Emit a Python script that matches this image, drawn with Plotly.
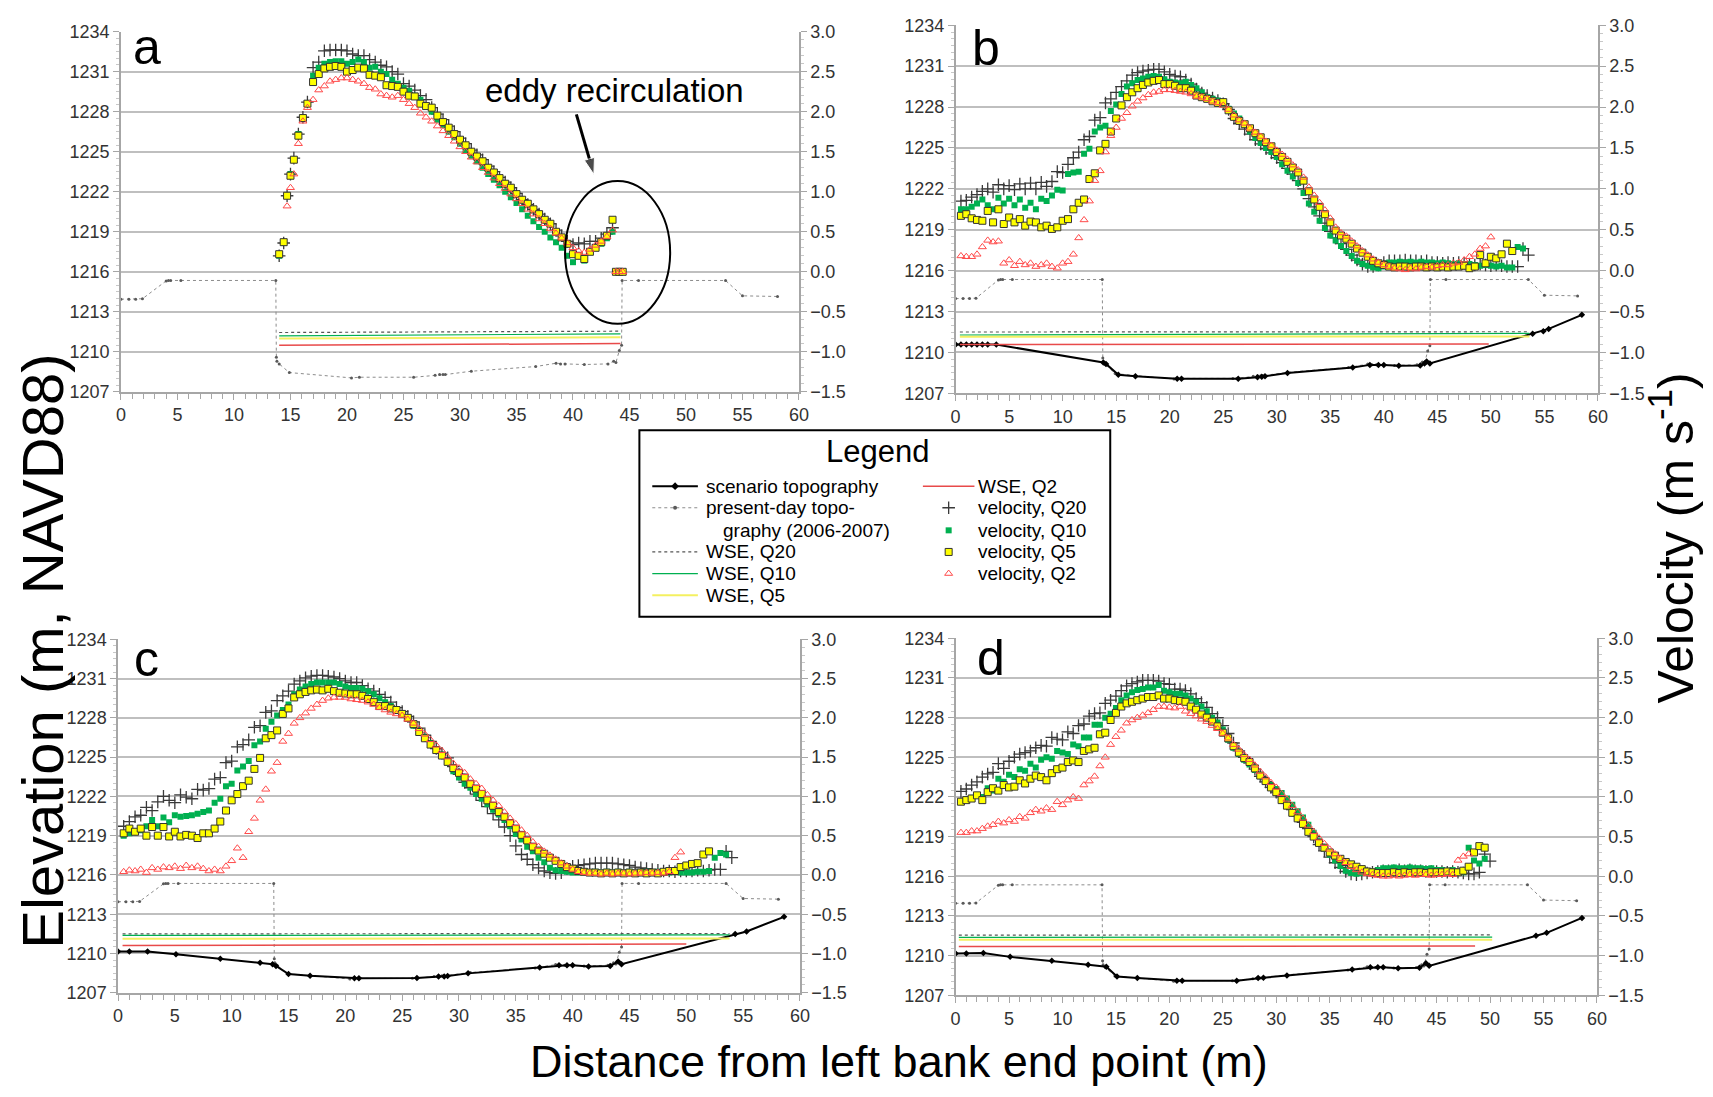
import plotly.graph_objects as go

FONT = "Liberation Sans, Arial, sans-serif"
W, H = 1713, 1097

# ---------------- stations (distance from left bank end point, m) ----------------
STATIONS = [0.5, 1.0, 1.5, 2.0, 2.5, 3.0, 3.5, 4.0, 4.5, 5.0,
            5.5, 6.0, 6.5, 7.0, 7.5, 8.0, 8.5, 9.0, 9.5, 10.0,
            10.5, 11.0, 11.5, 12.0, 12.5, 13.0, 13.5, 14.0, 14.5, 15.0,
            15.5, 16.0, 16.5, 17.0, 17.5, 18.0, 18.5, 19.0, 19.5, 20.0,
            20.5, 21.0, 21.5, 22.0, 22.5, 23.0, 23.5, 24.0, 24.5, 25.0,
            25.5, 26.0, 26.5, 27.0, 27.5, 28.0, 28.5, 29.0, 29.5, 30.0,
            30.5, 31.0, 31.5, 32.0, 32.5, 33.0, 33.5, 34.0, 34.5, 35.0,
            35.5, 36.0, 36.5, 37.0, 37.5, 38.0, 38.5, 39.0, 39.5, 40.0,
            40.5, 41.0, 41.5, 42.0, 42.5, 43.0, 43.5, 44.0, 44.5, 45.0,
            45.5, 46.0, 46.5, 47.0, 47.5, 48.0, 48.5, 49.0, 49.5, 50.0,
            50.5, 51.0, 51.5, 52.0, 52.5, 53.0, 53.5, 54.0]

STATIONS_A = [14.0, 14.4, 14.7, 15.0, 15.3, 15.7, 16.1, 16.5,
              17.0, 17.5, 18.0, 18.5, 19.0, 19.5, 20.0, 20.5, 21.0, 21.5,
              22.0, 22.5, 23.0, 23.5, 24.0, 24.5, 25.0, 25.5, 26.0, 26.5,
              27.0, 27.5, 28.0, 28.5, 29.0, 29.5, 30.0, 30.5, 31.0, 31.5,
              32.0, 32.5, 33.0, 33.5, 34.0, 34.5, 35.0, 35.5, 36.0, 36.5,
              37.0, 37.5, 38.0, 38.5, 39.0, 39.5, 40.0, 40.5, 41.0, 41.5,
              42.0, 42.5, 43.0, 43.5, 43.8, 44.1, 44.4]

# ---------------- velocity (m/s), panel a ----------------
VQ20_A = [0.20, 0.36, 0.95, 1.22, 1.42, 1.72, 1.93, 2.12,
          2.55, 2.62, 2.76, 2.77, 2.77, 2.77, 2.76, 2.72, 2.70, 2.70,
          2.65, 2.62, 2.58, 2.56, 2.50, 2.47, 2.35, 2.32, 2.27, 2.20,
          2.15, 2.05, 1.97, 1.90, 1.82, 1.75, 1.67, 1.60, 1.52, 1.46,
          1.40, 1.32, 1.25, 1.18, 1.12, 1.05, 0.98, 0.90, 0.84, 0.78,
          0.72, 0.66, 0.60, 0.52, 0.45, 0.38, 0.34, 0.36, 0.35, 0.38,
          0.38, 0.42, 0.47, 0.55, None, None, None]
VQ10_A = [0.20, 0.36, 0.95, 1.22, 1.40, 1.72, 1.93, 2.10,
          2.45, 2.55, 2.60, 2.62, 2.63, 2.63, 2.60, 2.62, 2.65, 2.62,
          2.55, 2.56, 2.50, 2.47, 2.40, 2.35, 2.30, 2.26, 2.20, 2.15,
          2.07, 2.00, 1.90, 1.83, 1.75, 1.68, 1.60, 1.52, 1.45, 1.38,
          1.30, 1.22, 1.15, 1.08, 1.00, 0.93, 0.86, 0.78, 0.70, 0.63,
          0.56, 0.50, 0.43, 0.37, 0.30, 0.20, 0.12, 0.20, 0.14, 0.25,
          0.30, 0.35, 0.42, 0.50, None, None, None]
VQ5_A = [0.22, 0.37, 0.95, 1.20, 1.40, 1.70, 1.92, 2.10,
         2.37, 2.47, 2.54, 2.56, 2.57, 2.56, 2.50, 2.52, 2.55, 2.54,
         2.46, 2.45, 2.43, 2.33, 2.32, 2.31, 2.25, 2.20, 2.19, 2.10,
         2.07, 2.05, 1.95, 1.87, 1.80, 1.72, 1.65, 1.58, 1.50, 1.44,
         1.38, 1.30, 1.24, 1.17, 1.10, 1.05, 0.97, 0.90, 0.85, 0.78,
         0.72, 0.65, 0.60, 0.50, 0.43, 0.35, 0.22, 0.20, 0.16, 0.25,
         0.30, 0.37, 0.45, 0.65, 0.00, 0.00, 0.00]
VQ2_A = [None, None, 0.82, 1.05, 1.22, 1.60, 1.88, 2.05,
         2.15, 2.27, 2.32, 2.38, 2.40, 2.42, 2.42, 2.40, 2.38, 2.35,
         2.30, 2.28, 2.22, 2.20, 2.18, 2.20, 2.15, 2.10, 2.05, 1.98,
         1.93, 1.88, 1.82, 1.76, 1.70, 1.63, 1.56, 1.50, 1.43, 1.37,
         1.30, 1.24, 1.17, 1.10, 1.04, 0.97, 0.91, 0.85, 0.78, 0.72,
         0.66, 0.60, 0.54, 0.48, 0.42, 0.36, 0.30, 0.26, 0.24, 0.28,
         0.33, 0.38, 0.44, 0.52, 0.00, 0.00, 0.00]

# ---------------- velocity (m/s), panel b ----------------
VQ20_B = [0.85, 0.86, 0.90, 0.93, 0.97, 1.00, 0.96, 1.05, 1.00, 1.04,
          0.99, 1.06, 1.00, 1.07, 1.00, 1.08, 1.03, 1.09, 1.21, 1.20,
          1.30, 1.38, 1.45, 1.60, 1.64, 1.84, 1.87, 2.05, 2.10, 2.18,
          2.25, 2.32, 2.39, 2.42, 2.44, 2.45, 2.46, 2.46, 2.43, 2.40,
          2.38, 2.37, 2.33, 2.28, 2.22, 2.17, 2.14, 2.11, 2.08, 2.04,
          1.97, 1.86, 1.80, 1.73, 1.67, 1.60, 1.55, 1.49, 1.44, 1.38,
          1.32, 1.25, 1.18, 1.10, 1.00, 0.88, 0.78, 0.67, 0.58, 0.48,
          0.40, 0.33, 0.26, 0.19, 0.13, 0.08, 0.05, 0.05, 0.07, 0.10,
          0.12, 0.12, 0.12, 0.13, 0.12, 0.12, 0.11, 0.12, 0.10, 0.10,
          0.09, 0.10, 0.09, 0.10, 0.09, 0.08, 0.07, 0.08, 0.07, 0.06,
          0.07, 0.06, 0.05, 0.05, 0.05, 0.27, 0.19, None]
VQ10_B = [0.75, 0.75, 0.78, 0.82, 0.87, 0.80, 0.75, 0.89, 0.82, 0.88,
          0.80, 0.87, 0.77, 0.83, 0.75, 0.88, 0.85, 0.92, 0.99, 0.98,
          1.18, 1.20, 1.21, 1.43, 1.49, 1.70, 1.75, 1.77, 1.95, 2.03,
          2.16, 2.25, 2.29, 2.33, 2.35, 2.37, 2.38, 2.37, 2.34, 2.31,
          2.30, 2.29, 2.31, 2.27, 2.23, 2.18, 2.12, 2.10, 2.08, 2.03,
          1.98, 1.92, 1.86, 1.79, 1.70, 1.62, 1.56, 1.50, 1.45, 1.39,
          1.30, 1.22, 1.15, 1.07, 0.95, 0.82, 0.72, 0.61, 0.52, 0.43,
          0.37, 0.30, 0.24, 0.18, 0.12, 0.08, 0.06, 0.04, 0.03, 0.05,
          0.10, 0.10, 0.11, 0.10, 0.11, 0.10, 0.11, 0.10, 0.10, 0.09,
          0.10, 0.09, 0.08, 0.09, 0.08, 0.08, 0.07, 0.06, 0.07, 0.06,
          0.05, 0.06, 0.04, 0.04, 0.29, 0.27, None, None]
VQ5_B = [0.67, 0.69, 0.64, 0.62, 0.61, 0.73, 0.59, 0.75, 0.57, 0.65,
         0.59, 0.63, 0.55, 0.60, 0.59, 0.53, 0.55, 0.51, 0.53, 0.61,
         0.63, 0.75, 0.83, 0.87, 1.12, 1.19, 1.47, 1.55, 1.70, 1.86,
         2.02, 2.12, 2.18, 2.23, 2.27, 2.30, 2.32, 2.33, 2.28, 2.28,
         2.26, 2.23, 2.23, 2.20, 2.14, 2.12, 2.10, 2.07, 2.05, 2.06,
         1.96, 1.88, 1.83, 1.79, 1.74, 1.68, 1.63, 1.57, 1.52, 1.45,
         1.39, 1.33, 1.26, 1.20, 1.10, 0.97, 0.87, 0.78, 0.69, 0.59,
         0.49, 0.43, 0.39, 0.33, 0.27, 0.22, 0.17, 0.12, 0.09, 0.07,
         0.05, 0.04, 0.05, 0.05, 0.04, 0.05, 0.05, 0.04, 0.05, 0.04,
         0.05, 0.04, 0.05, 0.05, 0.06, 0.03, 0.05, 0.19, 0.09, 0.17,
         0.15, 0.20, 0.33, 0.24, None, None, None, None]
VQ2_B = [0.18, 0.17, 0.17, 0.20, 0.29, 0.37, 0.35, 0.36, 0.09, 0.13,
         0.06, 0.11, 0.07, 0.09, 0.05, 0.07, 0.09, 0.05, 0.03, 0.09,
         0.11, 0.20, 0.40, 0.62, 0.85, 1.10, 1.22, 1.45, 1.65, 1.75,
         1.86, 1.93, 2.01, 2.07, 2.11, 2.15, 2.18, 2.19, 2.21, 2.21,
         2.20, 2.19, 2.18, 2.16, 2.13, 2.12, 2.10, 2.07, 2.05, 2.02,
         1.97, 1.90, 1.84, 1.80, 1.74, 1.69, 1.64, 1.58, 1.53, 1.47,
         1.42, 1.36, 1.29, 1.23, 1.14, 1.02, 0.92, 0.83, 0.74, 0.64,
         0.53, 0.46, 0.42, 0.36, 0.30, 0.24, 0.19, 0.14, 0.10, 0.07,
         0.05, 0.03, 0.02, 0.01, 0.03, 0.02, 0.04, 0.05, 0.04, 0.06,
         0.07, 0.07, 0.09, 0.10, 0.13, 0.17, 0.20, 0.27, 0.30, 0.41,
         None, None, None, None, None, None, None, None]

# ---------------- velocity (m/s), panel c ----------------
VQ20_C = [0.62, 0.68, 0.74, 0.76, 0.86, 0.82, 0.93, 1.00, 0.95, 0.92,
          1.02, 0.99, 0.97, 1.09, 1.08, 1.10, 1.22, 1.24, 1.43, 1.45,
          1.63, 1.66, 1.72, 1.88, 1.90, 2.07, 2.09, 2.22, 2.28, 2.34,
          2.43, 2.47, 2.51, 2.53, 2.54, 2.54, 2.53, 2.52, 2.50, 2.47,
          2.45, 2.45, 2.41, 2.37, 2.34, 2.30, 2.26, 2.20, 2.13, 2.08,
          2.02, 1.95, 1.87, 1.78, 1.70, 1.61, 1.55, 1.49, 1.38, 1.28,
          1.18, 1.11, 1.03, 0.95, 0.87, 0.78, 0.70, 0.61, 0.50, 0.37,
          0.26, 0.20, 0.13, 0.09, 0.05, 0.03, 0.02, 0.03, 0.08, 0.11,
          0.12, 0.13, 0.14, 0.15, 0.15, 0.15, 0.15, 0.14, 0.13, 0.12,
          0.10, 0.09, 0.08, 0.07, 0.06, 0.05, 0.05, 0.04, 0.05, 0.05,
          0.05, 0.06, 0.05, 0.06, 0.07, 0.07, 0.30, 0.22]
VQ10_C = [0.50, 0.53, 0.55, 0.57, 0.62, 0.70, 0.62, 0.73, 0.67, 0.76,
          0.74, 0.75, 0.76, 0.78, 0.80, 0.82, 0.92, 0.97, 1.13, 1.16,
          1.33, 1.38, 1.45, 1.65, 1.70, 1.86, 1.95, 2.03, 2.10, 2.17,
          2.30, 2.36, 2.40, 2.43, 2.45, 2.45, 2.45, 2.45, 2.43, 2.40,
          2.38, 2.38, 2.37, 2.34, 2.30, 2.25, 2.20, 2.15, 2.09, 2.05,
          1.99, 1.90, 1.84, 1.76, 1.68, 1.60, 1.53, 1.43, 1.32, 1.24,
          1.16, 1.11, 1.03, 0.97, 0.90, 0.83, 0.77, 0.70, 0.62, 0.52,
          0.45, 0.36, 0.30, 0.22, 0.16, 0.09, 0.06, 0.05, 0.04, 0.03,
          0.03, 0.04, 0.03, 0.04, 0.03, 0.04, 0.03, 0.04, 0.03, 0.04,
          0.03, 0.03, 0.04, 0.03, 0.04, 0.03, 0.03, 0.04, 0.03, 0.03,
          0.03, 0.04, 0.04, 0.05, 0.22, 0.28, 0.26, None]
VQ5_C = [0.53, 0.59, 0.55, 0.59, 0.50, 0.61, 0.50, 0.61, 0.49, 0.55,
         0.49, 0.51, 0.50, 0.47, 0.53, 0.53, 0.59, 0.68, 0.82, 0.95,
         1.03, 1.13, 1.20, 1.35, 1.49, 1.74, 1.78, 1.84, 2.05, 2.12,
         2.26, 2.30, 2.33, 2.35, 2.36, 2.35, 2.37, 2.34, 2.32, 2.31,
         2.30, 2.30, 2.28, 2.24, 2.20, 2.15, 2.15, 2.12, 2.10, 2.05,
         2.00, 1.92, 1.82, 1.74, 1.66, 1.59, 1.52, 1.44, 1.36, 1.30,
         1.24, 1.16, 1.10, 1.03, 0.95, 0.88, 0.80, 0.74, 0.66, 0.59,
         0.51, 0.44, 0.36, 0.31, 0.27, 0.22, 0.18, 0.14, 0.10, 0.08,
         0.05, 0.04, 0.03, 0.03, 0.02, 0.03, 0.02, 0.03, 0.02, 0.03,
         0.02, 0.03, 0.02, 0.03, 0.02, 0.04, 0.05, 0.05, 0.10, 0.12,
         0.14, 0.15, 0.26, 0.30, None, None, None, None]
VQ2_C = [0.04, 0.06, 0.05, 0.07, 0.03, 0.09, 0.07, 0.10, 0.09, 0.11,
         0.08, 0.12, 0.09, 0.11, 0.08, 0.05, 0.07, 0.05, 0.11, 0.18,
         0.34, 0.22, 0.55, 0.72, 0.95, 1.09, 1.32, 1.43, 1.70, 1.80,
         1.93, 2.00, 2.06, 2.12, 2.17, 2.22, 2.25, 2.26, 2.26, 2.26,
         2.24, 2.23, 2.22, 2.20, 2.17, 2.13, 2.10, 2.07, 2.05, 2.03,
         1.98, 1.93, 1.86, 1.79, 1.72, 1.65, 1.58, 1.50, 1.42, 1.36,
         1.30, 1.22, 1.16, 1.10, 1.02, 0.95, 0.88, 0.80, 0.72, 0.65,
         0.57, 0.50, 0.42, 0.36, 0.30, 0.25, 0.20, 0.15, 0.11, 0.07,
         0.04, 0.03, 0.02, 0.02, 0.01, 0.02, 0.01, 0.02, 0.02, 0.01,
         0.02, 0.02, 0.03, 0.02, 0.03, 0.02, 0.04, 0.22, 0.29, None,
         None, None, None, None, None, None, None, None]

# ---------------- velocity (m/s), panel d ----------------
VQ20_D = [1.07, 1.10, 1.15, 1.19, 1.25, 1.29, 1.31, 1.42, 1.36, 1.45,
          1.50, 1.54, 1.56, 1.58, 1.62, 1.65, 1.64, 1.75, 1.73, 1.72,
          1.82, 1.80, 1.90, 1.92, 2.02, 2.05, 2.06, 2.18, 2.22, 2.27,
          2.34, 2.40, 2.43, 2.45, 2.47, 2.47, 2.47, 2.46, 2.43, 2.42,
          2.36, 2.36, 2.34, 2.30, 2.24, 2.19, 2.13, 2.05, 2.00, 1.90,
          1.80, 1.68, 1.58, 1.50, 1.43, 1.35, 1.26, 1.19, 1.12, 1.06,
          1.00, 0.92, 0.84, 0.76, 0.68, 0.60, 0.50, 0.40, 0.32, 0.24,
          0.17, 0.11, 0.06, 0.03, 0.02, 0.03, 0.04, 0.05, 0.06, 0.07,
          0.07, 0.07, 0.08, 0.07, 0.08, 0.07, 0.07, 0.06, 0.06, 0.06,
          0.06, 0.05, 0.06, 0.05, 0.04, 0.03, 0.03, 0.05, 0.28, 0.19,
          None, None, None, None, None, None, None, None]
VQ10_D = [0.94, 0.97, 0.99, 1.02, 1.00, 1.11, 1.08, 1.23, 1.19, 1.28,
          1.25, 1.35, 1.33, 1.42, 1.37, 1.47, 1.50, 1.48, 1.58, 1.56,
          1.54, 1.66, 1.64, 1.75, 1.75, 1.91, 1.91, 2.00, 2.05, 2.12,
          2.22, 2.28, 2.32, 2.35, 2.36, 2.38, 2.38, 2.41, 2.34, 2.32,
          2.30, 2.30, 2.28, 2.24, 2.20, 2.14, 2.08, 2.00, 1.94, 1.85,
          1.72, 1.62, 1.54, 1.47, 1.41, 1.34, 1.26, 1.20, 1.15, 1.10,
          1.05, 0.98, 0.90, 0.82, 0.74, 0.65, 0.55, 0.44, 0.35, 0.27,
          0.20, 0.13, 0.07, 0.04, 0.03, 0.04, 0.05, 0.06, 0.08, 0.10,
          0.10, 0.11, 0.10, 0.10, 0.11, 0.10, 0.10, 0.09, 0.10, 0.08,
          0.08, 0.07, 0.08, 0.06, 0.05, 0.36, 0.20, 0.16, 0.22, None,
          None, None, None, None, None, None, None, None]
VQ5_D = [0.94, 0.96, 0.98, 1.02, 0.96, 1.06, 1.11, 1.08, 1.15, 1.12,
         1.13, 1.21, 1.17, 1.23, 1.27, 1.25, 1.21, 1.30, 1.35, 1.37,
         1.44, 1.46, 1.44, 1.58, 1.60, 1.62, 1.79, 1.81, 1.97, 2.06,
         2.14, 2.18, 2.20, 2.22, 2.24, 2.26, 2.26, 2.28, 2.24, 2.24,
         2.22, 2.21, 2.20, 2.14, 2.10, 2.04, 2.00, 1.95, 1.89, 1.81,
         1.74, 1.64, 1.56, 1.49, 1.44, 1.36, 1.27, 1.20, 1.12, 1.06,
         0.96, 0.89, 0.80, 0.73, 0.66, 0.56, 0.50, 0.42, 0.36, 0.30,
         0.26, 0.22, 0.18, 0.15, 0.12, 0.09, 0.06, 0.05, 0.04, 0.04,
         0.04, 0.05, 0.04, 0.05, 0.04, 0.05, 0.05, 0.04, 0.05, 0.05,
         0.05, 0.06, 0.05, 0.05, 0.07, 0.12, 0.30, 0.38, 0.36, None,
         None, None, None, None, None, None, None, None]
VQ2_D = [0.55, 0.55, 0.57, 0.57, 0.60, 0.63, 0.65, 0.69, 0.67, 0.71,
         0.69, 0.75, 0.73, 0.80, 0.84, 0.82, 0.86, 0.84, 0.94, 0.90,
         0.96, 1.00, 0.98, 1.15, 1.20, 1.26, 1.39, 1.50, 1.66, 1.76,
         1.84, 1.93, 1.97, 2.00, 2.03, 2.06, 2.10, 2.14, 2.14, 2.13,
         2.12, 2.14, 2.08, 2.05, 2.02, 1.98, 1.95, 1.90, 1.86, 1.80,
         1.74, 1.66, 1.60, 1.53, 1.47, 1.40, 1.32, 1.25, 1.18, 1.12,
         1.04, 0.97, 0.89, 0.81, 0.73, 0.64, 0.56, 0.48, 0.41, 0.34,
         0.28, 0.22, 0.17, 0.12, 0.08, 0.05, 0.03, 0.02, 0.01, 0.00,
         0.00, 0.01, 0.00, 0.01, 0.02, 0.01, 0.02, 0.02, 0.01, 0.02,
         0.02, 0.03, 0.02, 0.20, 0.25, 0.28, None, None, None, None,
         None, None, None, None, None, None, None, None]

# ---------------- topography (elevation, m NAVD88) ----------------
PD_X = [0.0, 0.7, 1.3, 1.9, 4.0, 4.2, 4.4, 5.3, 13.7, 13.75, 13.8, 14.0, 14.9, 20.4,
        21.1, 25.9, 27.8, 28.2, 28.5, 28.7, 31.0, 36.7, 38.5, 38.9, 39.3, 41.0, 43.1,
        43.6, 43.8, 44.1, 44.3, 44.35, 45.8, 53.5, 55.0, 58.1]
PD_Y = [1213.95, 1213.95, 1213.95, 1213.98, 1215.32, 1215.35, 1215.35, 1215.35, 1215.35,
        1209.6, 1209.3, 1209.1, 1208.45, 1208.05, 1208.1, 1208.1, 1208.25, 1208.3, 1208.3,
        1208.3, 1208.55, 1208.9, 1209.15, 1209.1, 1209.1, 1209.05, 1209.1, 1209.3, 1209.2,
        1210.1, 1210.5, 1215.35, 1215.35, 1215.35, 1214.2, 1214.15]

SC_B_X = [0.0, 0.5, 1.0, 1.5, 2.0, 2.5, 3.0, 3.8, 13.8, 14.05, 15.2, 16.8, 20.7, 21.1, 26.4,
          28.2, 28.6, 28.9, 31.0, 37.1, 38.7, 39.5, 40.0, 41.4, 43.4, 43.8, 44.0, 44.3, 53.9,
          54.9, 55.4, 58.5]
SC_B_Y = [1210.58, 1210.58, 1210.58, 1210.58, 1210.58, 1210.58, 1210.58, 1210.58, 1209.26,
          1209.16, 1208.37, 1208.25, 1208.08, 1208.08, 1208.08, 1208.18, 1208.22, 1208.25,
          1208.49, 1208.9, 1209.09, 1209.09, 1209.09, 1209.02, 1209.05, 1209.2, 1209.33,
          1209.2, 1211.37, 1211.56, 1211.73, 1212.76]
SC_C_X = [0.0, 1.0, 2.6, 5.1, 9.0, 12.5, 13.6, 13.9, 15.0, 16.9, 20.8, 21.2, 26.3, 28.2, 28.7,
          29.0, 30.8, 37.1, 38.8, 39.5, 40.0, 41.4, 43.3, 44.0, 44.3, 54.3, 55.3, 58.6]
SC_C_Y = [1210.15, 1210.15, 1210.15, 1209.95, 1209.6, 1209.3, 1209.18, 1209.05, 1208.43,
          1208.3, 1208.1, 1208.1, 1208.12, 1208.25, 1208.25, 1208.28, 1208.48, 1208.93,
          1209.1, 1209.1, 1209.1, 1209.0, 1209.05, 1209.38, 1209.18, 1211.48, 1211.68, 1212.8]
SC_D_X = [0.0, 1.0, 2.6, 5.1, 9.0, 12.4, 14.1, 15.1, 17.0, 20.7, 21.2, 26.3, 28.3, 28.8, 31.0,
          37.1, 38.8, 39.5, 40.0, 41.4, 43.4, 44.0, 44.3, 54.3, 55.3, 58.6]
SC_D_Y = [1210.15, 1210.15, 1210.2, 1209.9, 1209.6, 1209.3, 1209.15, 1208.42, 1208.3,
          1208.1, 1208.1, 1208.1, 1208.3, 1208.32, 1208.5, 1208.95, 1209.12, 1209.12,
          1209.12, 1209.03, 1209.08, 1209.42, 1209.22, 1211.5, 1211.72, 1212.85]

# ---------------- water surface elevation (m) ----------------
WSE_A_X = [14.0, 44.2]
WSE_A = {"Q20": [1211.45, 1211.55], "Q10": [1211.2, 1211.35], "Q5": [1211.0, 1211.1], "Q2": [1210.5, 1210.62]}
WSE_A_X2 = [14.0, 44.2]
WSE_B_X = [0.4, 53.6]
WSE_B = {"Q20": [1211.5, 1211.52], "Q10": [1211.28, 1211.4], "Q5": [1211.15, 1211.18], "Q2": [1210.58, 1210.62]}
WSE_B_X2 = [0.4, 49.8]
WSE_C_X = [0.4, 53.8]
WSE_C = {"Q20": [1211.5, 1211.52], "Q10": [1211.38, 1211.42], "Q5": [1211.12, 1211.15], "Q2": [1210.6, 1210.72]}
WSE_C_X2 = [0.4, 50.0]
WSE_D_X = [0.3, 50.2]
WSE_D = {"Q20": [1211.55, 1211.56], "Q10": [1211.38, 1211.4], "Q5": [1211.2, 1211.2], "Q2": [1210.68, 1210.72]}
WSE_D_X2 = [0.3, 48.6]

ELEV_RANGE = [1207, 1234]
VEL_RANGE = [-1.5, 3.0]

# legend entries (label, style) in column order
LEGEND_COL1 = ["scenario topography", "present-day topo-", "WSE, Q20", "WSE, Q10", "WSE, Q5"]
LEGEND_COL2 = ["WSE, Q2", "velocity, Q20", "velocity, Q10", "velocity, Q5", "velocity, Q2"]

# ---------------- styles ----------------
C_Q20 = "#3a3a3a"
C_Q10 = "#00b050"
C_Q5 = "#ffff00"
C_Q2 = "#ff4a4a"

STY = {
    "pd_line": dict(color="#8c8c8c", width=1, dash="dot"),
    "pd_mark": dict(color="#5a5a5a", size=3),
    "sc_line": dict(color="black", width=2),
    "sc_mark": dict(color="black", size=5, symbol="diamond"),
    "w20": dict(color="#555555", width=1.2, dash="dot"),
    "w10": dict(color=C_Q10, width=1.2),
    "w5": dict(color="#f4f060", width=2),
    "w2": dict(color="#e84a4a", width=1.5),
    "v20": dict(symbol="cross-thin", size=9, line=dict(color=C_Q20, width=1.3)),
    "v10": dict(symbol="square", size=6, color=C_Q10, line=dict(width=0)),
    "v5": dict(symbol="square", size=7, color=C_Q5, line=dict(color="#333333", width=1)),
    "v2": dict(symbol="triangle-up-open", size=7, color=C_Q2, line=dict(width=1)),
}

panels = [
    dict(label="a", xa="x", ye="y", yv="y2", st=STATIONS_A,
         vel=(VQ20_A, VQ10_A, VQ5_A, VQ2_A), wx=WSE_A_X, wx2=WSE_A_X2, wse=WSE_A, sc=None),
    dict(label="b", xa="x2", ye="y3", yv="y4", st=STATIONS,
         vel=(VQ20_B, VQ10_B, VQ5_B, VQ2_B), wx=WSE_B_X, wx2=WSE_B_X2, wse=WSE_B, sc=(SC_B_X, SC_B_Y)),
    dict(label="c", xa="x3", ye="y5", yv="y6", st=STATIONS,
         vel=(VQ20_C, VQ10_C, VQ5_C, VQ2_C), wx=WSE_C_X, wx2=WSE_C_X2, wse=WSE_C, sc=(SC_C_X, SC_C_Y)),
    dict(label="d", xa="x4", ye="y7", yv="y8", st=STATIONS,
         vel=(VQ20_D, VQ10_D, VQ5_D, VQ2_D), wx=WSE_D_X, wx2=WSE_D_X2, wse=WSE_D, sc=(SC_D_X, SC_D_Y)),
]

fig = go.Figure()

for p in panels:
    xa, ye, yv = p["xa"], p["ye"], p["yv"]
    common = dict(xaxis=xa, hoverinfo="skip", showlegend=False)
    fig.add_trace(go.Scatter(x=PD_X, y=PD_Y, yaxis=ye, mode="lines+markers",
                             line=STY["pd_line"], marker=STY["pd_mark"],
                             name="present-day topography (2006-2007)", **common))
    if p["sc"] is not None:
        fig.add_trace(go.Scatter(x=p["sc"][0], y=p["sc"][1], yaxis=ye, mode="lines+markers",
                                 line=STY["sc_line"], marker=STY["sc_mark"],
                                 name="scenario topography", **common))
    w = p["wse"]
    fig.add_trace(go.Scatter(x=p["wx"], y=w["Q20"], yaxis=ye, mode="lines", line=STY["w20"],
                             name="WSE, Q20", **common))
    fig.add_trace(go.Scatter(x=p["wx"], y=w["Q10"], yaxis=ye, mode="lines", line=STY["w10"],
                             name="WSE, Q10", **common))
    fig.add_trace(go.Scatter(x=p["wx"], y=w["Q5"], yaxis=ye, mode="lines", line=STY["w5"],
                             name="WSE, Q5", **common))
    fig.add_trace(go.Scatter(x=p["wx2"], y=w["Q2"], yaxis=ye, mode="lines", line=STY["w2"],
                             name="WSE, Q2", **common))
    v20, v10, v5, v2 = p["vel"]
    for vals, key, nm in [(v20, "v20", "velocity, Q20"), (v10, "v10", "velocity, Q10"),
                          (v5, "v5", "velocity, Q5"), (v2, "v2", "velocity, Q2")]:
        fig.add_trace(go.Scatter(x=p["st"], y=vals, yaxis=yv, mode="markers",
                                 marker=STY[key], name=nm, **common))

# eddy-recirculation arrow (panel a)
fig.add_trace(go.Scatter(x=[40.3, 41.85], y=[1227.8, 1223.3], xaxis="x", yaxis="y",
                         mode="lines+markers", line=dict(color="black", width=3),
                         marker=dict(symbol="arrow", size=[0, 17], color="black", angleref="previous"),
                         hoverinfo="skip", showlegend=False))

# ---------------- hand-drawn legend (pixel overlay axes) ----------------
ROWS = [485, 507, 530, 552, 574, 596]
C1_L, C1_R, C1_T = 653, 699, 705
C2_L, C2_R, C2_T = 926, 978, 980


def lg_line(x0, x1, y, line, mark=None):
    fig.add_trace(go.Scatter(x=[x0, x1], y=[y, y], xaxis="x5", yaxis="y9", mode="lines",
                             line=line, hoverinfo="skip", showlegend=False))
    if mark is not None:
        fig.add_trace(go.Scatter(x=[(x0 + x1) / 2], y=[y], xaxis="x5", yaxis="y9", mode="markers",
                                 marker=mark, hoverinfo="skip", showlegend=False))


def lg_mark(x, y, mark):
    fig.add_trace(go.Scatter(x=[x], y=[y], xaxis="x5", yaxis="y9", mode="markers",
                             marker=mark, hoverinfo="skip", showlegend=False))


lg_line(C1_L, C1_R, ROWS[0], STY["sc_line"], dict(color="black", size=6, symbol="diamond"))
lg_line(C1_L, C1_R, ROWS[1], STY["pd_line"], dict(color="#5a5a5a", size=4))
lg_line(C1_L, C1_R, ROWS[3], STY["w20"])
lg_line(C1_L, C1_R, ROWS[4], STY["w10"])
lg_line(C1_L, C1_R, ROWS[5], STY["w5"])
lg_line(C2_L, C2_R, ROWS[0], STY["w2"])
xm = (C2_L + C2_R) / 2
lg_mark(xm, ROWS[1], STY["v20"])
lg_mark(xm, ROWS[2], STY["v10"])
lg_mark(xm, ROWS[3], STY["v5"])
lg_mark(xm, ROWS[4], STY["v2"])

tickfont = dict(family=FONT, size=18, color="#333333")
AXC = "#a6a6a6"


def xax(domain, anchor):
    return dict(domain=domain, anchor=anchor, range=[0, 60], dtick=5, tick0=0,
                showline=True, linecolor=AXC, linewidth=1.5, ticks="outside", ticklen=6,
                tickcolor=AXC, showgrid=False, zeroline=False, tickfont=tickfont,
                minor=dict(dtick=1, ticks="outside", ticklen=5, tickcolor=AXC))


def yel(domain, anchor):
    return dict(domain=domain, anchor=anchor, range=ELEV_RANGE, tick0=1207, dtick=3,
                showline=True, linecolor=AXC, linewidth=1.5, ticks="outside", ticklen=6,
                tickcolor=AXC, showgrid=True, gridcolor="#bfbfbf", gridwidth=1.6,
                zeroline=False, tickfont=tickfont,
                minor=dict(dtick=0.5, ticks="outside", ticklen=3, tickcolor="#c8c8c8"))


def yvl(over, anchor):
    return dict(overlaying=over, anchor=anchor, side="right", range=VEL_RANGE, tick0=-1.5,
                dtick=0.5, tickformat=".1f", showline=True, linecolor=AXC, linewidth=1.5,
                ticks="outside", ticklen=6, tickcolor=AXC, showgrid=False, zeroline=False,
                tickfont=tickfont,
                minor=dict(dtick=0.1, ticks="outside", ticklen=3, tickcolor="#c8c8c8"))


def px(v):
    return v / W


def py(v):
    return 1 - v / H


layout = dict(
    width=W, height=H, margin=dict(l=0, r=0, t=0, b=0),
    paper_bgcolor="white", plot_bgcolor="rgba(0,0,0,0)",
    font=dict(family=FONT, color="black"),
    showlegend=False,
    xaxis=xax([px(117), px(801)], "y"),
    yaxis=yel([py(389), py(22)], "x"),
    yaxis2=yvl("y", "x"),
    xaxis2=xax([px(959), px(1607)], "y3"),
    yaxis3=yel([py(390.5), py(15.5)], "x2"),
    yaxis4=yvl("y3", "x2"),
    xaxis3=xax([px(114), px(802)], "y5"),
    yaxis5=yel([py(1001), py(641)], "x3"),
    yaxis6=yvl("y5", "x3"),
    xaxis4=xax([px(959), px(1606)], "y7"),
    yaxis7=yel([py(1003.5), py(640)], "x4"),
    yaxis8=yvl("y7", "x4"),
    xaxis5=dict(domain=[0, 1], anchor="y9", range=[0, W], visible=False, fixedrange=True),
    yaxis9=dict(domain=[0, 1], anchor="x5", range=[H, 0], visible=False, fixedrange=True),
)
fig.update_layout(**layout)

# legend frame, title and labels
fig.add_shape(type="rect", xref="paper", yref="paper", x0=px(640), x1=px(1115),
              y0=py(618), y1=py(428), line=dict(color="black", width=2), fillcolor="rgba(0,0,0,0)")
fig.add_annotation(xref="paper", yref="paper", x=px(880), y=py(450), text="Legend",
                   showarrow=False, font=dict(family=FONT, size=31, color="black"),
                   xanchor="center", yanchor="middle")
LGF = dict(family=FONT, size=19, color="black")
col1_rows = [ROWS[0], ROWS[1], ROWS[3], ROWS[4], ROWS[5]]
for lab, yy in zip(LEGEND_COL1, col1_rows):
    fig.add_annotation(xref="paper", yref="paper", x=px(C1_T), y=py(yy), text=lab,
                       showarrow=False, font=LGF, xanchor="left", yanchor="middle")
fig.add_annotation(xref="paper", yref="paper", x=px(C1_T + 17), y=py(ROWS[2]),
                   text="graphy (2006-2007)", showarrow=False, font=LGF,
                   xanchor="left", yanchor="middle")
for lab, yy in zip(LEGEND_COL2, ROWS[:5]):
    fig.add_annotation(xref="paper", yref="paper", x=px(C2_T), y=py(yy), text=lab,
                       showarrow=False, font=LGF, xanchor="left", yanchor="middle")

# panel letters
for lab, xx, yy in [("a", 143, 38), ("b", 990, 39), ("c", 143, 661), ("d", 995, 660)]:
    fig.add_annotation(xref="paper", yref="paper", x=px(xx), y=py(yy), text=lab,
                       showarrow=False, font=dict(family=FONT, size=50, color="black"),
                       xanchor="center", yanchor="middle")

# axis titles
fig.add_annotation(xref="paper", yref="paper", x=px(37), y=py(653), text="Elevation (m, NAVD88)",
                   textangle=-90, showarrow=False, font=dict(family=FONT, size=58, color="black"),
                   xanchor="center", yanchor="middle")
fig.add_annotation(xref="paper", yref="paper", x=px(1682), y=py(538), text="Velocity (m s<sup>-1</sup>)",
                   textangle=-90, showarrow=False, font=dict(family=FONT, size=50, color="black"),
                   xanchor="center", yanchor="middle")
fig.add_annotation(xref="paper", yref="paper", x=px(902), y=py(1071),
                   text="Distance from left bank end point (m)", showarrow=False,
                   font=dict(family=FONT, size=45, color="black"), xanchor="center", yanchor="middle")

# eddy recirculation label and ellipse (panel a)
fig.add_annotation(xref="x", yref="y", x=43.65, y=1229.6, text="eddy recirculation",
                   showarrow=False, font=dict(family=FONT, size=33, color="black"),
                   xanchor="center", yanchor="middle")
fig.add_shape(type="circle", xref="x", yref="y", x0=39.3, x1=48.6, y0=1212.1, y1=1222.8,
              line=dict(color="black", width=2))

fig.write_html("out.html")
